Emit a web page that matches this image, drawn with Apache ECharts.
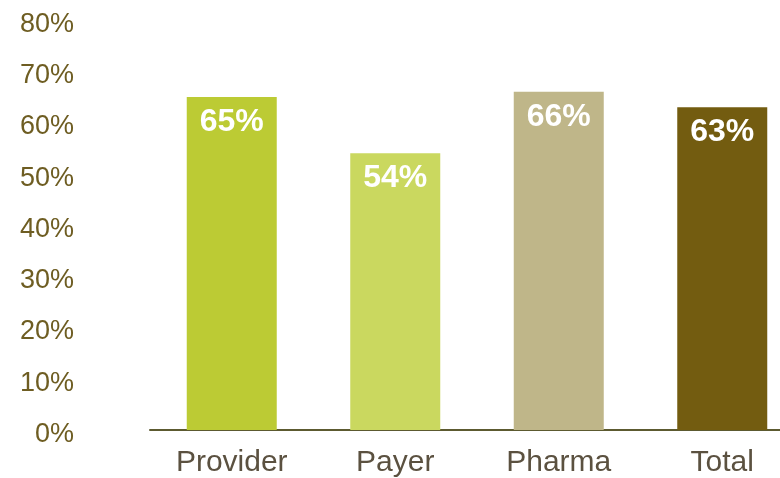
<!DOCTYPE html>
<html>
<head>
<meta charset="utf-8">
<script src="https://cdn.jsdelivr.net/npm/echarts@6/dist/echarts.min.js"></script>
<style>
  html, body { margin: 0; padding: 0; background: #ffffff; overflow: hidden; }
  #chart { width: 810px; height: 478px; }
</style>
</head>
<body>
<div id="chart"></div>
<script>
// Share of respondents by segment
const categories = ['Provider', 'Payer', 'Pharma', 'Total'];
const values = [65, 54, 66, 63];
const barColors = ['#bccb34', '#cad85f', '#bfb689', '#735c10'];
const yTicks = [0, 10, 20, 30, 40, 50, 60, 70, 80];

const chart = echarts.init(document.getElementById('chart'), null, { renderer: 'canvas' });

chart.setOption({
  animation: false,
  grid: { left: 150, right: 6, top: 20, bottom: 48, containLabel: false },
  xAxis: {
    type: 'category',
    data: categories,
    axisLine: { show: true, lineStyle: { color: '#5c5a30', width: 2 } },
    axisTick: { show: false },
    axisLabel: {
      color: '#5b5140',
      fontFamily: 'Liberation Sans, Arial, sans-serif',
      fontSize: 30,
      margin: 18
    }
  },
  yAxis: {
    type: 'value',
    min: yTicks[0],
    max: yTicks[yTicks.length - 1],
    interval: 10,
    splitLine: { show: false },
    axisLine: { show: false },
    axisTick: { show: false },
    axisLabel: {
      margin: 76,
      align: 'right',
      formatter: v => '{t|' + v + '%}',
      rich: {
        t: {
          color: '#6e5d22',
          fontFamily: 'Liberation Sans, Arial, sans-serif',
          fontSize: 27,
          padding: [9, 0, 0, 0]
        }
      }
    }
  },
  series: [{
    type: 'bar',
    barWidth: 90,
    data: values.map((v, i) => ({ value: v, itemStyle: { color: barColors[i] } })),
    label: {
      show: true,
      position: 'insideTop',
      distance: 9,
      color: '#ffffff',
      fontFamily: 'Liberation Sans, Arial, sans-serif',
      fontWeight: 'bold',
      fontSize: 32,
      formatter: p => p.value + '%'
    }
  }]
});
</script>
</body>
</html>
